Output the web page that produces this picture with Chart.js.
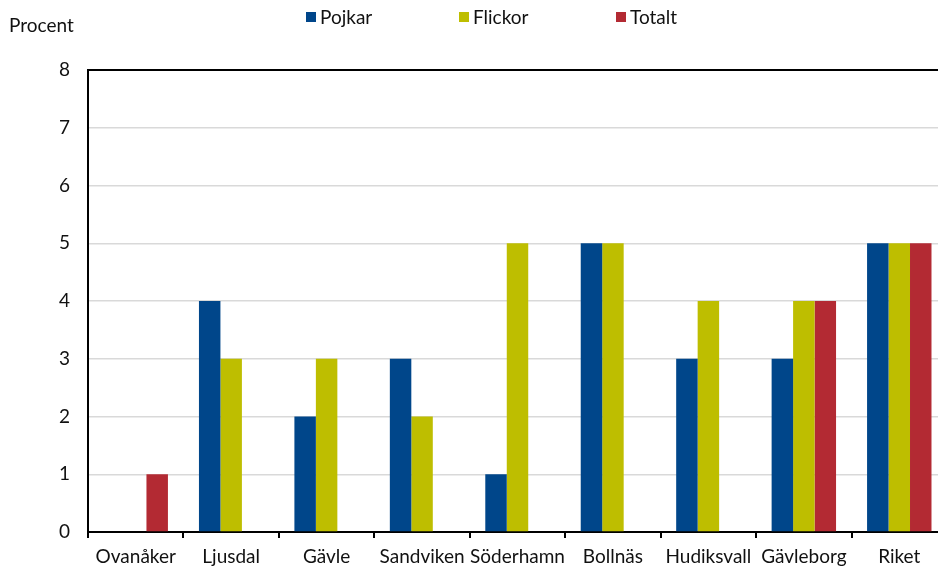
<!DOCTYPE html>
<html>
<head>
<meta charset="utf-8">
<script src="https://cdn.jsdelivr.net/npm/chart.js@4/dist/chart.umd.min.js"></script>
<style>
  html, body { margin: 0; padding: 0; background: #fff; overflow: hidden; }
  #wrap { position: absolute; left: 0; top: 0; width: 947px; height: 580px; }
</style>
</head>
<body>
<div id="wrap"><canvas id="c"></canvas></div>
<script>
const categories = ["Ovanåker", "Ljusdal", "Gävle", "Sandviken", "Söderhamn", "Bollnäs", "Hudiksvall", "Gävleborg", "Riket"];
const pojkar = [null, 4, 2, 3, 1, 5, 3, 3, 5];
const flickor = [null, 3, 3, 2, 5, 5, 4, 4, 5];
const totalt = [1, null, null, null, null, null, null, 4, 5];
const seriesNames = ["Pojkar", "Flickor", "Totalt"];
const yTicks = [0, 1, 2, 3, 4, 5, 6, 7, 8];
const yTitle = "Procent";

const colors = ["#00468A", "#BEBE00", "#B32A33"];
const FONT = "Lato, 'Open Sans', sans-serif";

const legendPlugin = {
  id: 'customLegend',
  afterDraw(chart) {
    const ctx = chart.ctx;
    ctx.save();
    ctx.font = "19px " + FONT;
    ctx.textBaseline = "middle";
    ctx.textAlign = "left";
    const xs = [306, 459, 616];
    chart.data.datasets.forEach((ds, i) => {
      ctx.fillStyle = ds.backgroundColor;
      ctx.fillRect(xs[i], 12, 10, 10);
      ctx.fillStyle = "#111";
      ctx.fillText(ds.label, xs[i] + 14, 18);
    });
    ctx.fillText(yTitle, 9, 26);
    ctx.restore();
  }
};

new Chart(document.getElementById('c'), {
  type: 'bar',
  data: {
    labels: categories,
    datasets: [
      { label: seriesNames[0], data: pojkar, backgroundColor: colors[0] },
      { label: seriesNames[1], data: flickor, backgroundColor: colors[1] },
      { label: seriesNames[2], data: totalt, backgroundColor: colors[2] }
    ]
  },
  options: {
    responsive: true,
    maintainAspectRatio: false,
    animation: false,
    layout: { padding: { left: 0, top: 70, right: 0, bottom: 0 } },
    datasets: { bar: { categoryPercentage: 0.675, barPercentage: 1.0 } },
    plugins: { legend: { display: false }, tooltip: { enabled: false } },
    scales: {
      x: {
        offset: true,
        grid: { offset: true, drawOnChartArea: false, drawTicks: true, tickLength: 6, color: "#000", lineWidth: 2 },
        border: { color: "#000", width: 2 },
        ticks: { color: "#111", font: { family: FONT, size: 19 }, padding: 7, autoSkip: false, maxRotation: 0 },
        afterFit(scale) { scale.height = 48; }
      },
      y: {
        min: 0, max: 8,
        afterBuildTicks(scale) { scale.ticks = yTicks.map(v => ({ value: v })); },
        grid: {
          drawTicks: false,
          color: (c) => c.tick && c.tick.value === 8 ? "#000" : "#d9d9d9",
          lineWidth: (c) => c.tick && c.tick.value === 8 ? 2 : 1.5
        },
        border: { color: "#000", width: 2 },
        ticks: { color: "#111", font: { family: FONT, size: 19 }, padding: 18 },
        afterFit(scale) { scale.width = 88; }
      }
    }
  },
  plugins: [legendPlugin]
});
</script>
</body>
</html>
